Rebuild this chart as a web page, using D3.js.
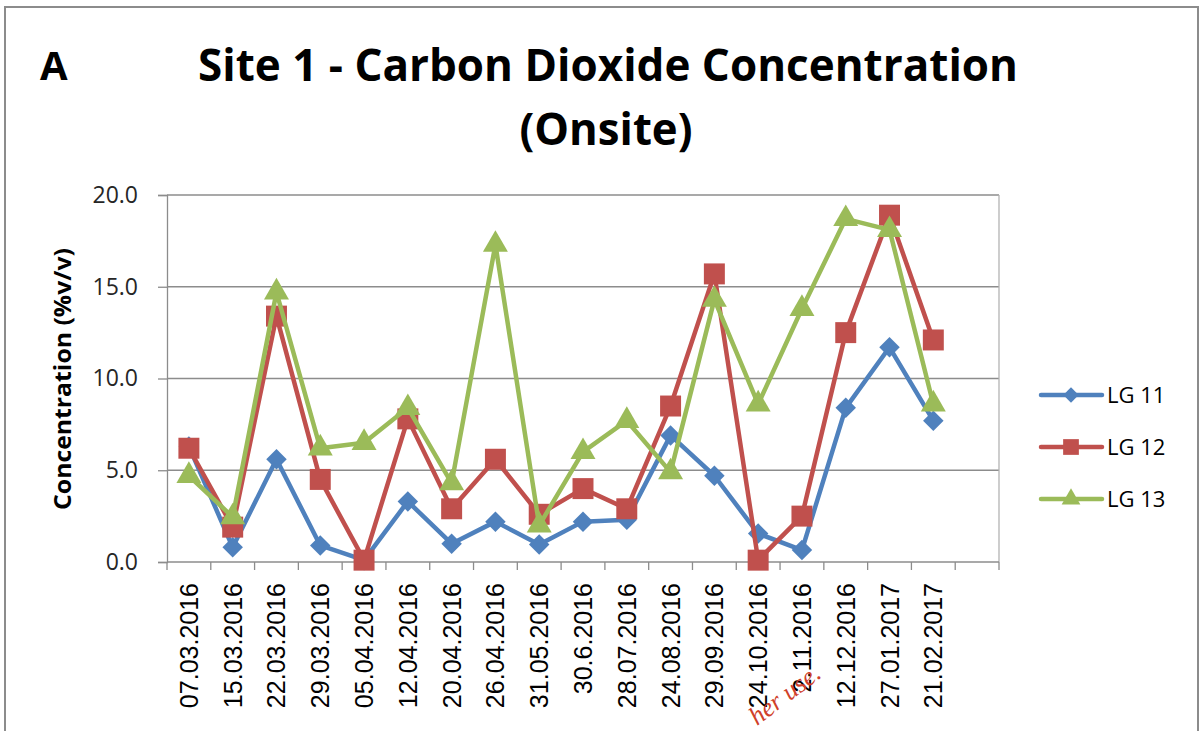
<!DOCTYPE html>
<html>
<head>
<meta charset="utf-8">
<script src="https://cdn.jsdelivr.net/npm/d3@7"></script>
<style>
  body { margin: 0; background: #fff; }
</style>
</head>
<body>
<script>
// sampling dates (one empty slot is left at the end, as in the original)
const dates = ["07.03.2016", "15.03.2016", "22.03.2016", "29.03.2016", "05.04.2016",
  "12.04.2016", "20.04.2016", "26.04.2016", "31.05.2016", "30.6.2016", "28.07.2016",
  "24.08.2016", "29.09.2016", "24.10.2016", "2.11.2016", "12.12.2016", "27.01.2017", "21.02.2017"];
const lg11 = [6.3, 0.8, 5.6, 0.9, 0.1, 3.3, 1.0, 2.2, 0.95, 2.2, 2.3, 6.9, 4.7, 1.55, 0.65, 8.4, 11.7, 7.7];
const lg12 = [6.2, 1.9, 13.4, 4.5, 0.1, 7.8, 2.9, 5.6, 2.6, 4.0, 2.9, 8.5, 15.7, 0.1, 2.5, 12.5, 18.9, 12.1];
const lg13 = [4.7, 2.45, 14.7, 6.2, 6.5, 8.4, 4.3, 17.3, 2.0, 6.0, 7.7, 4.9, 14.3, 8.6, 13.8, 18.7, 18.1, 8.6];
const yTicks = [0, 5, 10, 15, 20];

const series = [
  { name: "LG 11", values: lg11, color: "#4f81bd", shape: "diamond" },
  { name: "LG 12", values: lg12, color: "#c0504d", shape: "square" },
  { name: "LG 13", values: lg13, color: "#9bbb59", shape: "triangle" }
];

const w = 1203;
const h = 731;
const plot = { left: 167, right: 999, top: 195, bottom: 562 };
const sans = "'Open Sans', sans-serif";

const svg = d3.select("body").append("svg")
  .attr("width", w)
  .attr("height", h)
  .style("font-family", sans);

// outer chart frame
svg.append("rect")
  .attr("x", 5).attr("y", 7)
  .attr("width", 1193).attr("height", 740)
  .attr("fill", "none")
  .attr("stroke", "#8c8c8c")
  .attr("stroke-width", 2);

const x = d3.scaleBand()
  .domain(dates.concat([""]))
  .range([plot.left, plot.right]);
const y = d3.scaleLinear()
  .domain([0, 20])
  .range([plot.bottom, plot.top]);

// gridlines
svg.append("g")
  .selectAll("line")
  .data(yTicks.filter(d => d > 0))
  .enter().append("line")
  .attr("x1", plot.left).attr("x2", plot.right)
  .attr("y1", d => y(d)).attr("y2", d => y(d))
  .attr("stroke", "#8c8c8c")
  .attr("stroke-width", 1.3);

// right border of plot area
svg.append("line")
  .attr("x1", plot.right).attr("x2", plot.right)
  .attr("y1", plot.top).attr("y2", plot.bottom)
  .attr("stroke", "#b3b3b3")
  .attr("stroke-width", 1.3);

// y axis
const yAxis = svg.append("g")
  .attr("transform", `translate(${plot.left},0)`)
  .call(d3.axisLeft(y).tickValues(yTicks).tickFormat(d3.format(".1f")).tickSize(9).tickPadding(20));
yAxis.select(".domain").attr("stroke", "#8c8c8c").attr("stroke-width", 1.3);
yAxis.selectAll(".tick line").attr("stroke", "#8c8c8c").attr("stroke-width", 1.3);
yAxis.selectAll(".tick text")
  .style("font-family", sans)
  .style("font-size", "23px")
  .attr("fill", "#262626");

// x axis: tick marks on category boundaries
const bounds = x.domain().map(d => x(d)).concat([plot.right]);
svg.append("line")
  .attr("x1", plot.left).attr("x2", plot.right)
  .attr("y1", plot.bottom).attr("y2", plot.bottom)
  .attr("stroke", "#8c8c8c")
  .attr("stroke-width", 1.3);
svg.append("g")
  .selectAll("line")
  .data(bounds)
  .enter().append("line")
  .attr("x1", d => d).attr("x2", d => d)
  .attr("y1", plot.bottom).attr("y2", plot.bottom + 8)
  .attr("stroke", "#8c8c8c")
  .attr("stroke-width", 1.3);

svg.append("g")
  .selectAll("text")
  .data(dates)
  .enter().append("text")
  .attr("transform", d => `translate(${x(d) + x.bandwidth() / 2 + 9},583) rotate(-90)`)
  .attr("text-anchor", "end")
  .style("font-family", "'Liberation Sans', Arial, sans-serif")
  .style("font-size", "25px")
  .attr("fill", "#000")
  .text(d => d);

// axis title
svg.append("text")
  .attr("transform", `translate(71,379) rotate(-90)`)
  .attr("text-anchor", "middle")
  .attr("font-weight", "bold")
  .style("font-size", "23px")
  .attr("textLength", 262)
  .attr("lengthAdjust", "spacingAndGlyphs")
  .attr("fill", "#000")
  .text("Concentration (%v/v)");

// titles
svg.append("text")
  .attr("x", 40).attr("y", 80)
  .attr("font-weight", "bold")
  .style("font-size", "40px")
  .text("A");
svg.append("text")
  .attr("x", 608).attr("y", 81)
  .attr("text-anchor", "middle")
  .attr("font-weight", "bold")
  .style("font-size", "45px")
  .attr("textLength", 820)
  .attr("lengthAdjust", "spacingAndGlyphs")
  .text("Site 1 - Carbon Dioxide Concentration");
svg.append("text")
  .attr("x", 606).attr("y", 145)
  .attr("text-anchor", "middle")
  .attr("font-weight", "bold")
  .style("font-size", "45px")
  .attr("textLength", 173)
  .attr("lengthAdjust", "spacingAndGlyphs")
  .text("(Onsite)");

function marker(shape) {
  if (shape === "diamond") return { path: d3.symbol(d3.symbolSquare, 210)(), rot: 45 };
  if (shape === "square") return { path: d3.symbol(d3.symbolSquare, 440)(), rot: 0 };
  return { path: d3.symbol(d3.symbolTriangle, 270)(), rot: 0 };
}

const line = d3.line()
  .x((d, i) => x(dates[i]) + x.bandwidth() / 2)
  .y(d => y(d));

series.forEach(s => {
  const g = svg.append("g");
  g.append("path")
    .datum(s.values)
    .attr("d", line)
    .attr("fill", "none")
    .attr("stroke", s.color)
    .attr("stroke-width", 4.5)
    .attr("stroke-linejoin", "round");
  const m = marker(s.shape);
  g.selectAll("path.pt")
    .data(s.values)
    .enter().append("path")
    .attr("class", "pt")
    .attr("d", m.path)
    .attr("transform", (d, i) => `translate(${x(dates[i]) + x.bandwidth() / 2},${y(d)}) rotate(${m.rot})`)
    .attr("fill", s.color);
});

// legend
const legend = svg.append("g");
const items = legend.selectAll("g")
  .data(series)
  .enter().append("g")
  .attr("transform", (d, i) => `translate(1041,${395 + i * 52})`);
items.append("line")
  .attr("x1", 0).attr("x2", 61)
  .attr("stroke", d => d.color)
  .attr("stroke-width", 4.5)
  .attr("stroke-linecap", "round");
items.append("path")
  .attr("d", d => marker(d.shape).path)
  .attr("transform", d => `translate(30,0) rotate(${marker(d.shape).rot}) scale(0.75)`)
  .attr("fill", d => d.color);
items.append("text")
  .attr("x", 66).attr("y", 8)
  .style("font-size", "22px")
  .attr("fill", "#000")
  .text(d => d.name);

// watermark fragment from the source page
svg.append("text")
  .attr("transform", "translate(757,726) rotate(-37)")
  .style("font-family", "'Liberation Serif', serif")
  .style("font-style", "italic")
  .style("font-size", "26px")
  .attr("fill", "#d0402a")
  .text("her use.");
</script>
</body>
</html>
